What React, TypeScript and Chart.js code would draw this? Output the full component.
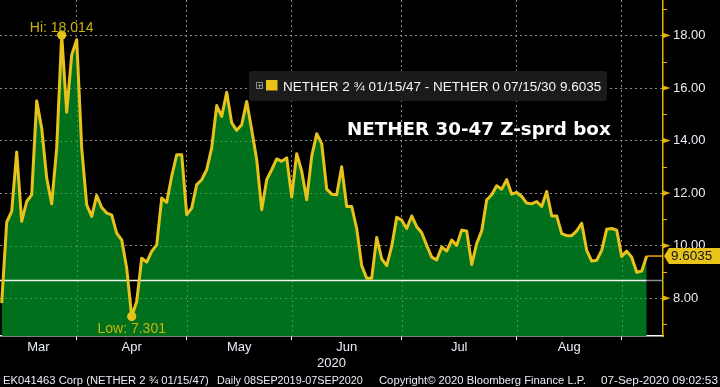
import React, { useEffect, useRef } from 'react';
import { Chart, registerables } from 'chart.js';

Chart.register(...registerables);

// Daily Z-spread box values (trading days, ~11 Mar 2020 .. 07 Sep 2020)
const spreadValues: number[] = [
  7.81, 10.89, 11.3, 13.56, 10.92, 11.68, 11.93, 15.51, 14.47, 12.57,
  11.59, 13.71, 18.014, 15.08, 17.26, 17.84, 13.71, 11.55, 11.11, 11.91,
  11.45, 11.24, 11.17, 10.47, 10.22, 9.14, 7.301, 7.87, 9.52, 9.37,
  9.78, 10.03, 11.81, 11.65, 12.64, 13.46, 13.46, 11.18, 11.43, 12.32,
  12.51, 12.89, 13.72, 15.33, 14.92, 15.84, 14.67, 14.39, 14.6, 15.49,
  14.41, 13.27, 11.37, 12.51, 12.89, 13.3, 13.21, 13.34, 11.85, 13.5,
  12.83, 11.75, 13.4, 14.26, 13.88, 12.15, 11.96, 11.94, 13.0, 11.49,
  11.49, 10.65, 9.24, 8.76, 8.76, 10.31, 9.5, 9.24, 9.97, 11.08,
  10.97, 10.65, 11.13, 10.72, 10.49, 10.01, 9.56, 9.46, 9.95, 9.79,
  10.21, 10.01, 10.59, 10.56, 9.28, 10.08, 10.56, 11.74, 11.94, 12.28,
  12.15, 12.51, 11.96, 12.03, 11.87, 11.62, 11.59, 11.68, 11.49, 12.06,
  11.13, 11.13, 10.46, 10.38, 10.38, 10.56, 10.85, 9.82, 9.41, 9.44,
  9.82, 10.62, 10.65, 10.59, 9.59, 9.79, 9.56, 8.99, 9.03, 9.6035,
];

// index of the first trading day of each month (Apr .. Sep)
const monthStartIdx: number[] = [15, 37, 58, 80, 103, 124];
const monthLabels: string[] = ['Mar', 'Apr', 'May', 'Jun', 'Jul', 'Aug'];
const yearLabel = '2020';
const yMajorTicks: number[] = [8, 10, 12, 14, 16, 18];
const yMinorTicks: number[] = [7, 9, 11, 13, 15, 17, 19];
const referenceLevel = 8.7;
const hiLabel = 'Hi: 18.014';
const lowLabel = 'Low: 7.301';
const lastLabel = '9.6035';
const legendLabel = 'NETHER 2 \u00BE 01/15/47 - NETHER 0 07/15/30 9.6035';
const titleLabel = 'NETHER 30-47 Z-sprd box';
const footerSecurity = 'EK041463 Corp (NETHER 2 \u00BE 01/15/47)';
const footerRange = 'Daily 08SEP2019-07SEP2020';
const footerCopyright = 'Copyright\u00A9 2020 Bloomberg Finance L.P.';
const footerStamp = '07-Sep-2020 09:02:53';

const X_MIN = -0.34;
const X_MAX = 132.26;
const Y_MIN = 6.56;
const Y_MAX = 19.35;

const LINE = '#e8c21c';
const FILL = '#00701c';
const GRID = '#8a8a8a';
const GRID_ON_FILL = '#3d9a42';
const AXIS = '#e6b400';
const TEXT = '#e8edf4';
const HI = '#c8b40a';
const FONT = '"Liberation Sans", Arial, sans-serif';

function seg(ctx: CanvasRenderingContext2D, x1: number, y1: number, x2: number, y2: number) {
  ctx.beginPath();
  ctx.moveTo(x1, y1);
  ctx.lineTo(x2, y2);
  ctx.stroke();
}

// draw text shrunk (if needed) to fit a target width
function fitText(ctx: CanvasRenderingContext2D, text: string, x: number, y: number, width: number, size: number) {
  ctx.font = `${size}px ${FONT}`;
  const w = ctx.measureText(text).width;
  const s = w > width ? (size * width) / w : size;
  ctx.font = `${s}px ${FONT}`;
  ctx.fillText(text, x, y);
}

const bbgPlugin = {
  id: 'bbgDecor',
  beforeDatasetsDraw(chart: any) {
    const { ctx, chartArea: ca, scales } = chart;
    const xs = scales.x;
    const ys = scales.y;
    const pts = chart.getDatasetMeta(0).data;
    if (!pts.length) return;
    ctx.save();
    ctx.beginPath();
    ctx.moveTo(pts[0].x, ca.bottom);
    for (const p of pts) ctx.lineTo(p.x, p.y);
    ctx.lineTo(pts[pts.length - 1].x, ca.bottom);
    ctx.closePath();
    ctx.clip();
    ctx.strokeStyle = GRID_ON_FILL;
    ctx.lineWidth = 1;
    ctx.setLineDash([2, 3]);
    for (const v of yMajorTicks) {
      const py = Math.round(ys.getPixelForValue(v)) + 0.5;
      seg(ctx, ca.left, py, ca.right, py);
    }
    for (const i of monthStartIdx) {
      const px = Math.round(xs.getPixelForValue(i)) + 0.5;
      seg(ctx, px, ca.top, px, ca.bottom);
    }
    ctx.restore();

    const ry = Math.round(ys.getPixelForValue(referenceLevel)) + 0.5;
    const lastX = pts[pts.length - 1].x;
    ctx.save();
    ctx.lineWidth = 1.5;
    ctx.strokeStyle = '#8c8c8c';
    seg(ctx, lastX, ry, ca.right, ry);
    ctx.strokeStyle = '#f0f0f0';
    seg(ctx, ca.left, ry, lastX, ry);
    ctx.restore();
  },
  afterDatasetsDraw(chart: any) {
    const { ctx, chartArea: ca } = chart;
    const pts = chart.getDatasetMeta(0).data;
    if (!pts.length) return;
    const hiIdx = spreadValues.indexOf(Math.max(...spreadValues));
    const lowIdx = spreadValues.indexOf(Math.min(...spreadValues));
    const last = pts[pts.length - 1];
    ctx.save();
    ctx.strokeStyle = '#f5a300';
    ctx.lineWidth = 1.5;
    seg(ctx, last.x, last.y, ca.right, last.y);
    ctx.fillStyle = LINE;
    for (const idx of [hiIdx, lowIdx]) {
      ctx.beginPath();
      ctx.arc(pts[idx].x, pts[idx].y, 4.6, 0, Math.PI * 2);
      ctx.fill();
    }
    ctx.fillStyle = HI;
    ctx.font = `14px ${FONT}`;
    ctx.textAlign = 'center';
    ctx.textBaseline = 'alphabetic';
    ctx.fillText(hiLabel, pts[hiIdx].x, pts[hiIdx].y - 3.5);
    ctx.fillText(lowLabel, pts[lowIdx].x, pts[lowIdx].y + 16.5);
    ctx.restore();
  },
  afterDraw(chart: any) {
    const { ctx, chartArea: ca, scales } = chart;
    const xs = scales.x;
    const ys = scales.y;
    const pts = chart.getDatasetMeta(0).data;
    ctx.save();
    ctx.fillStyle = AXIS;
    ctx.strokeStyle = AXIS;
    ctx.lineWidth = 1;
    for (const v of yMajorTicks) {
      const py = ys.getPixelForValue(v);
      ctx.beginPath();
      ctx.moveTo(ca.right, py - 2.6);
      ctx.lineTo(ca.right + 7.5, py);
      ctx.lineTo(ca.right, py + 2.6);
      ctx.closePath();
      ctx.fill();
    }
    for (const v of yMinorTicks) {
      const py = Math.round(ys.getPixelForValue(v)) + 0.5;
      seg(ctx, ca.right, py, ca.right + 4, py);
    }
    if (pts.length) {
      const ly = pts[pts.length - 1].y;
      ctx.fillStyle = '#e8c31a';
      ctx.beginPath();
      ctx.moveTo(ca.right + 1, ly);
      ctx.lineTo(ca.right + 6, ly - 8);
      ctx.lineTo(720, ly - 8);
      ctx.lineTo(720, ly + 8);
      ctx.lineTo(ca.right + 6, ly + 8);
      ctx.closePath();
      ctx.fill();
      ctx.fillStyle = '#141414';
      ctx.font = `13.5px ${FONT}`;
      ctx.textAlign = 'left';
      ctx.textBaseline = 'middle';
      ctx.fillText(lastLabel, ca.right + 8, ly + 0.5);
    }
    ctx.fillStyle = TEXT;
    ctx.font = `13px ${FONT}`;
    ctx.textAlign = 'center';
    ctx.textBaseline = 'alphabetic';
    const bounds = [X_MIN, ...monthStartIdx];
    monthLabels.forEach((m, k) => {
      const px = (xs.getPixelForValue(bounds[k]) + xs.getPixelForValue(bounds[k + 1])) / 2;
      ctx.fillText(m, px, ca.bottom + 15);
    });
    ctx.fillText(yearLabel, (ca.left + ca.right) / 2, ca.bottom + 31);

    ctx.textAlign = 'left';
    fitText(ctx, footerSecurity, 3, 384, 206, 12.5);
    fitText(ctx, footerRange, 217, 384, 146, 12.5);
    fitText(ctx, footerCopyright, 379, 384, 207, 12.5);
    fitText(ctx, footerStamp, 601, 384, 117, 12.5);

    ctx.fillStyle = '#1b1b1b';
    ctx.beginPath();
    (ctx as any).roundRect(249, 71, 358, 30, 3);
    ctx.fill();
    ctx.strokeStyle = '#8a8a8a';
    ctx.lineWidth = 1;
    ctx.strokeRect(256.5, 82.5, 6, 6);
    seg(ctx, 258, 85.5, 262, 85.5);
    seg(ctx, 259.5, 84, 259.5, 88);
    ctx.fillStyle = '#e6c21a';
    ctx.fillRect(266, 80, 11.5, 10.5);
    ctx.fillStyle = '#f4f6fa';
    ctx.font = `13.5px ${FONT}`;
    ctx.textAlign = 'left';
    ctx.textBaseline = 'middle';
    ctx.fillText(legendLabel, 283, 87);

    ctx.fillStyle = '#ffffff';
    ctx.font = `bold 18.3px "DejaVu Sans", ${FONT}`;
    ctx.fillText(titleLabel, 347, 130.5);
    ctx.restore();
  },
};

export default function App() {
  const canvasRef = useRef<HTMLCanvasElement>(null);

  useEffect(() => {
    document.body.style.margin = '0';
    document.body.style.background = '#000';
    const canvas = canvasRef.current;
    if (!canvas) return;
    Chart.defaults.font.family = FONT;
    const chart = new Chart(canvas, {
      type: 'line',
      data: {
        datasets: [
          {
            data: spreadValues.map((v, i) => ({ x: i, y: v })),
            borderColor: LINE,
            backgroundColor: FILL,
            borderWidth: 3,
            borderJoinStyle: 'round',
            fill: 'start',
            pointRadius: 0,
            tension: 0,
          },
        ],
      },
      options: {
        responsive: false,
        animation: false,
        layout: { padding: 0 },
        plugins: {
          legend: { display: false },
          tooltip: { enabled: false },
          filler: { drawTime: 'beforeDatasetsDraw' },
        } as any,
        scales: {
          x: {
            type: 'linear',
            min: X_MIN,
            max: X_MAX,
            afterBuildTicks: (s: any) => {
              s.ticks = monthStartIdx.map((v) => ({ value: v }));
            },
            afterFit: (s: any) => {
              s.height = 51;
              s.paddingLeft = 0;
              s.paddingRight = 0;
            },
            ticks: { display: false },
            grid: { color: GRID, lineWidth: 1, drawTicks: true, tickLength: 4, tickColor: '#ffffff' },
            border: { color: '#ffffff', width: 1.5, dash: [2, 3] },
          },
          y: {
            position: 'right',
            min: Y_MIN,
            max: Y_MAX,
            afterBuildTicks: (s: any) => {
              s.ticks = [...yMajorTicks, ...yMinorTicks].sort((a, b) => a - b).map((v) => ({ value: v }));
            },
            afterFit: (s: any) => {
              s.width = 57;
              s.paddingTop = 0;
              s.paddingBottom = 0;
            },
            ticks: {
              color: TEXT,
              padding: 10,
              font: { size: 13, family: FONT },
              callback: (v: any) => (yMajorTicks.includes(Number(v)) ? Number(v).toFixed(2) : ''),
            },
            grid: {
              color: (c: any) => (c.tick && yMajorTicks.includes(c.tick.value) ? GRID : 'rgba(0,0,0,0)'),
              lineWidth: 1,
              drawTicks: false,
            },
            border: { color: AXIS, width: 1.5, dash: [2, 3] },
          },
        },
      } as any,
      plugins: [bbgPlugin],
    });
    return () => chart.destroy();
  }, []);

  return (
    <div style={{ width: 720, height: 387, background: '#000', position: 'relative', overflow: 'hidden' }}>
      <canvas ref={canvasRef} width={720} height={387} style={{ display: 'block' }} />
    </div>
  );
}
